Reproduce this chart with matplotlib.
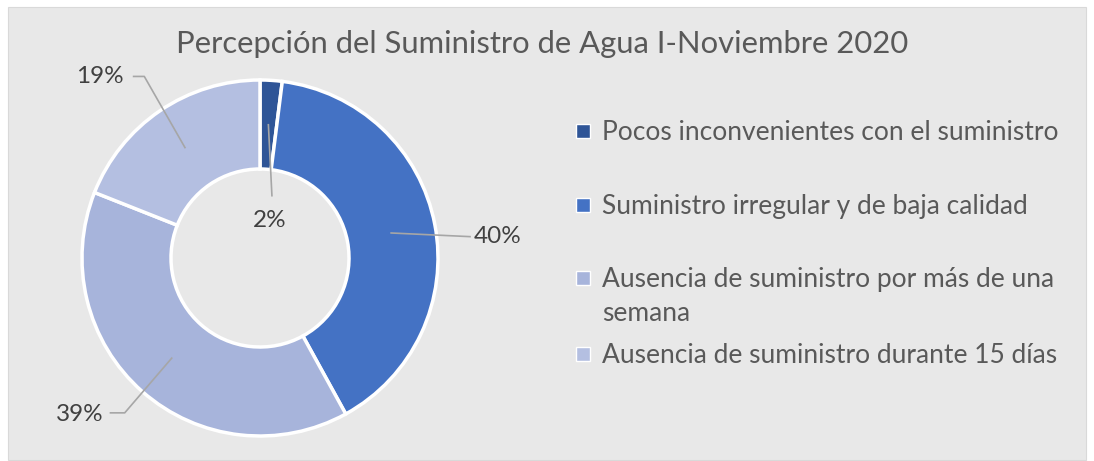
import numpy as np
import matplotlib.pyplot as plt
from matplotlib.patches import Rectangle

plt.rcParams['font.family'] = ['Lato', 'DejaVu Sans']

title = "Percepción del Suministro de Agua I-Noviembre 2020"
categories = [
    "Pocos inconvenientes con el suministro",
    "Suministro irregular y de baja calidad",
    "Ausencia de suministro por más de una\nsemana",
    "Ausencia de suministro durante 15 días",
]
values = [2, 40, 39, 19]
colors = ["#2F5597", "#4472C4", "#A7B4DB", "#B4BFE1"]

W, H = 1094, 461
fig = plt.figure(figsize=(W / 100, H / 100), dpi=100)
fig.patch.set_facecolor("white")

# chart area background
bg = Rectangle((8 / W, 1 / H), 1078 / W, 453 / H, transform=fig.transFigure,
               facecolor="#E8E8E8", edgecolor="#D9D9D9", lw=0.8, zorder=-1)
fig.patches.append(bg)

text_color = "#595959"
fig.text(542 / W, 1 - 44 / H, title, ha="center", va="center",
         fontsize=22.3, color=text_color)

# donut
cx, cy, r = 260, 258, 178
ax = fig.add_axes([(cx - r) / W, (H - cy - r) / H, 2 * r / W, 2 * r / H])
ax.set_facecolor("none")
wedges, _ = ax.pie(values, colors=colors, startangle=90, counterclock=False,
                   radius=1.0,
                   wedgeprops=dict(width=0.5, edgecolor="white", linewidth=2.5))
ax.set_xlim(-1, 1)
ax.set_ylim(-1, 1)
ax.set_aspect("equal")
ax.axis("off")

# labels with leader lines (anchor at middle of the ring)
label_xy = [(0.056, 0.21), (1.335, 0.12), (-1.01, -0.88), (-0.9, 1.02)]
elbow = [None, None, (-0.76, -0.87), (-0.65, 1.02)]
line_end = [(0.067, 0.35), (1.18, 0.12), (-0.84, -0.87), (-0.71, 1.02)]
for w, v, lxy, el, le in zip(wedges, values, label_xy, elbow, line_end):
    ang = np.deg2rad((w.theta1 + w.theta2) / 2)
    ax0, ay0 = 0.75 * np.cos(ang), 0.75 * np.sin(ang)
    xs, ys = [ax0], [ay0]
    if el is not None:
        xs.append(el[0]); ys.append(el[1])
    xs.append(le[0]); ys.append(le[1])
    ax.plot(xs, ys, color="#A6A6A6", lw=1.2, clip_on=False, zorder=5)
    ax.text(lxy[0], lxy[1], f"{v}%", ha="center", va="center",
            fontsize=17.5, color="#404040", clip_on=False)

# legend
rows_y = [131, 205, 278, 354]
for lab, col, yy in zip(categories, colors, rows_y):
    fig.patches.append(Rectangle(((583 - 7) / W, 1 - (yy + 7) / H), 14 / W, 14 / H,
                                 transform=fig.transFigure, facecolor=col,
                                 edgecolor="white", lw=1.0))
    fig.text(602 / W, 1 - (yy - 11) / H, lab, ha="left", va="top",
             fontsize=19, color=text_color, linespacing=1.45)

fig.savefig("out.png", dpi=100)
